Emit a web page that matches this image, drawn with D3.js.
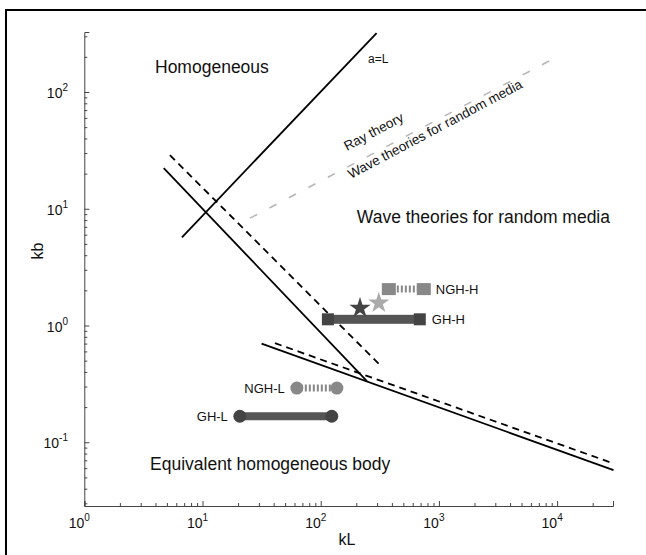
<!DOCTYPE html>
<html>
<head>
<meta charset="utf-8">
<script src="https://cdn.jsdelivr.net/npm/d3@7/dist/d3.min.js"></script>
<style>
  html, body { margin: 0; padding: 0; background: #fff; }
  svg text { font-family: "Liberation Sans", Arial, sans-serif; fill: #111; }
</style>
</head>
<body>
<svg id="chart" width="646" height="555"></svg>
<script>
// ---- data (kL, kb pairs) ----
const xMajorTicks = [1, 10, 100, 1000, 10000];
const yMajorTicks = [0.1, 1, 10, 100];
const xTickLabels = ["0", "1", "2", "3", "4"];
const yTickLabels = ["-1", "0", "1", "2"];

const lineAeqL      = [[6.7, 5.7], [297, 320]];
const solidSteep    = [[4.7, 22.3], [246, 0.334]];
const dashedSteep   = [[5.3, 28.8], [323, 0.45]];
const solidShallow  = [[31.6, 0.70], [30000, 0.0577]];
const dashedShallow = [[41, 0.706], [30000, 0.0658]];
const rayWaveBound  = [[25.2, 8.3], [9800, 198]];

const ghH  = [[115, 1.13], [689, 1.13]];
const nghH = [[377, 2.05], [745, 2.05]];
const ghL  = [[20.7, 0.167], [124, 0.167]];
const nghL = [[62.8, 0.291], [137, 0.291]];
const starsDark  = [[215, 1.41]];
const starsLight = [[310, 1.56]];

// ---- layout ----
const svg = d3.select("#chart");
const x = d3.scaleLog().domain([1, 29700]).range([84.3, 613]);
const y = d3.scaleLog().domain([Math.pow(10, -1.546), Math.pow(10, 2.514)]).range([506, 32]);

// outer figure frame (top and left edges)
svg.append("path").attr("d", "M6,555 V10 H646")
  .attr("fill", "none").attr("stroke", "#000").attr("stroke-width", 2);

function minorTicks(scale) {
  const [a, b] = scale.domain();
  const out = [];
  for (let e = Math.floor(Math.log10(a)); e <= Math.ceil(Math.log10(b)); e++) {
    for (let m = 2; m <= 9; m++) {
      const v = m * Math.pow(10, e);
      if (v >= a && v <= b) out.push(v);
    }
  }
  return out;
}

// axes with inward ticks
const gx = svg.append("g").attr("transform", `translate(0,${y.range()[0]})`);
gx.call(d3.axisBottom(x).tickValues(xMajorTicks).tickFormat("").tickSize(-5).tickSizeOuter(-5));
const gxm = svg.append("g").attr("transform", `translate(0,${y.range()[0]})`);
gxm.call(d3.axisBottom(x).tickValues(minorTicks(x)).tickFormat("").tickSize(-3).tickSizeOuter(0));
gxm.select(".domain").remove();

const gy = svg.append("g").attr("transform", `translate(${x.range()[0]},0)`);
gy.call(d3.axisLeft(y).tickValues(yMajorTicks).tickFormat("").tickSize(-5).tickSizeOuter(-5));
const gym = svg.append("g").attr("transform", `translate(${x.range()[0]},0)`);
gym.call(d3.axisLeft(y).tickValues(minorTicks(y)).tickFormat("").tickSize(-3).tickSizeOuter(0));
gym.select(".domain").remove();

svg.selectAll(".domain, .tick line").attr("stroke", "#444").attr("stroke-width", 1);

// tick labels with superscript exponents
xMajorTicks.forEach((v, i) => {
  const t = svg.append("text").attr("x", x(v) - 5).attr("y", 528)
    .attr("text-anchor", "middle").attr("font-size", 14);
  t.append("tspan").text("10");
  t.append("tspan").attr("dy", -7).attr("font-size", 10).text(xTickLabels[i]);
});
yMajorTicks.forEach((v, i) => {
  const t = svg.append("text").attr("x", 68).attr("y", y(v) + 6)
    .attr("text-anchor", "end").attr("font-size", 14);
  t.append("tspan").text("10");
  t.append("tspan").attr("dy", -7).attr("font-size", 10).text(yTickLabels[i]);
});

svg.append("text").attr("x", 347).attr("y", 545).attr("text-anchor", "middle")
  .attr("font-size", 16).text("kL");
svg.append("text").attr("transform", "translate(43,251) rotate(-90)")
  .attr("text-anchor", "middle").attr("font-size", 16).text("kb");

// ---- regime boundaries ----
const line = d3.line().x(d => x(d[0])).y(d => y(d[1]));
function drawLine(data, dash, color, width) {
  svg.append("path").datum(data).attr("d", line)
    .attr("fill", "none").attr("stroke", color).attr("stroke-width", width)
    .attr("stroke-dasharray", dash);
}
drawLine(lineAeqL, null, "#000", 1.8);
drawLine(solidSteep, null, "#000", 1.8);
drawLine(dashedSteep, "7,5", "#000", 1.8);
drawLine(solidShallow, null, "#000", 1.8);
drawLine(dashedShallow, "7,5", "#000", 1.8);
drawLine(rayWaveBound, "8,14", "#b5b5b5", 1.5);

// ---- observation ranges ----
function bar(data, color, h) {
  svg.append("rect")
    .attr("x", x(data[0][0])).attr("y", y(data[0][1]) - h / 2)
    .attr("width", x(data[1][0]) - x(data[0][0])).attr("height", h)
    .attr("fill", color);
}
function dotted(data, color, h) {
  svg.append("path").datum(data).attr("d", line)
    .attr("fill", "none").attr("stroke", color).attr("stroke-width", h)
    .attr("stroke-dasharray", "2,2");
}
// GH-H: solid bar with square ends
bar(ghH, "#555", 9);
[ghH[0], ghH[1]].forEach(p => svg.append("rect")
  .attr("x", x(p[0]) - 6).attr("y", y(p[1]) - 6).attr("width", 12).attr("height", 12).attr("fill", "#444"));
// NGH-H: dotted with square ends
dotted(nghH, "#888", 7);
[nghH[0], nghH[1]].forEach(p => svg.append("rect")
  .attr("x", x(p[0]) - 7).attr("y", y(p[1]) - 6).attr("width", 14).attr("height", 12).attr("fill", "#888"));
// GH-L: solid bar with round ends
bar(ghL, "#555", 8);
[ghL[0], ghL[1]].forEach(p => svg.append("circle")
  .attr("cx", x(p[0])).attr("cy", y(p[1])).attr("r", 6.5).attr("fill", "#444"));
// NGH-L: dotted with round ends
dotted(nghL, "#888", 7);
[nghL[0], nghL[1]].forEach(p => svg.append("circle")
  .attr("cx", x(p[0])).attr("cy", y(p[1])).attr("r", 6.5).attr("fill", "#888"));

const star = d3.symbol().type(d3.symbolStar).size(140);
starsDark.forEach(p => svg.append("path").attr("d", star)
  .attr("transform", `translate(${x(p[0])},${y(p[1])})`).attr("fill", "#444"));
starsLight.forEach(p => svg.append("path").attr("d", star)
  .attr("transform", `translate(${x(p[0])},${y(p[1])})`).attr("fill", "#aaa"));

// ---- labels ----
function label(txt, xx, yy, size, anchor) {
  svg.append("text").attr("x", xx).attr("y", yy).attr("font-size", size)
    .attr("text-anchor", anchor || "start").text(txt);
}
label("Homogeneous", 155, 73, 17.5);
label("a=L", 368, 63, 12);
label("Wave theories for random media", 610, 223, 17.5, "end");
label("Equivalent homogeneous body", 150, 470, 17.5);
label("NGH-H", x(nghH[1][0]) + 12, y(nghH[1][1]) + 5, 13);
label("GH-H", x(ghH[1][0]) + 12, y(ghH[1][1]) + 5, 13);
label("NGH-L", x(nghL[0][0]) - 12, y(nghL[0][1]) + 5, 13, "end");
label("GH-L", x(ghL[0][0]) - 12, y(ghL[0][1]) + 5, 13, "end");

svg.append("text").attr("transform", "translate(347,151) rotate(-28)")
  .attr("font-size", 13.5).text("Ray theory");
svg.append("text").attr("transform", "translate(351,179) rotate(-28)")
  .attr("font-size", 13.5).text("Wave theories for random media");
</script>
</body>
</html>
